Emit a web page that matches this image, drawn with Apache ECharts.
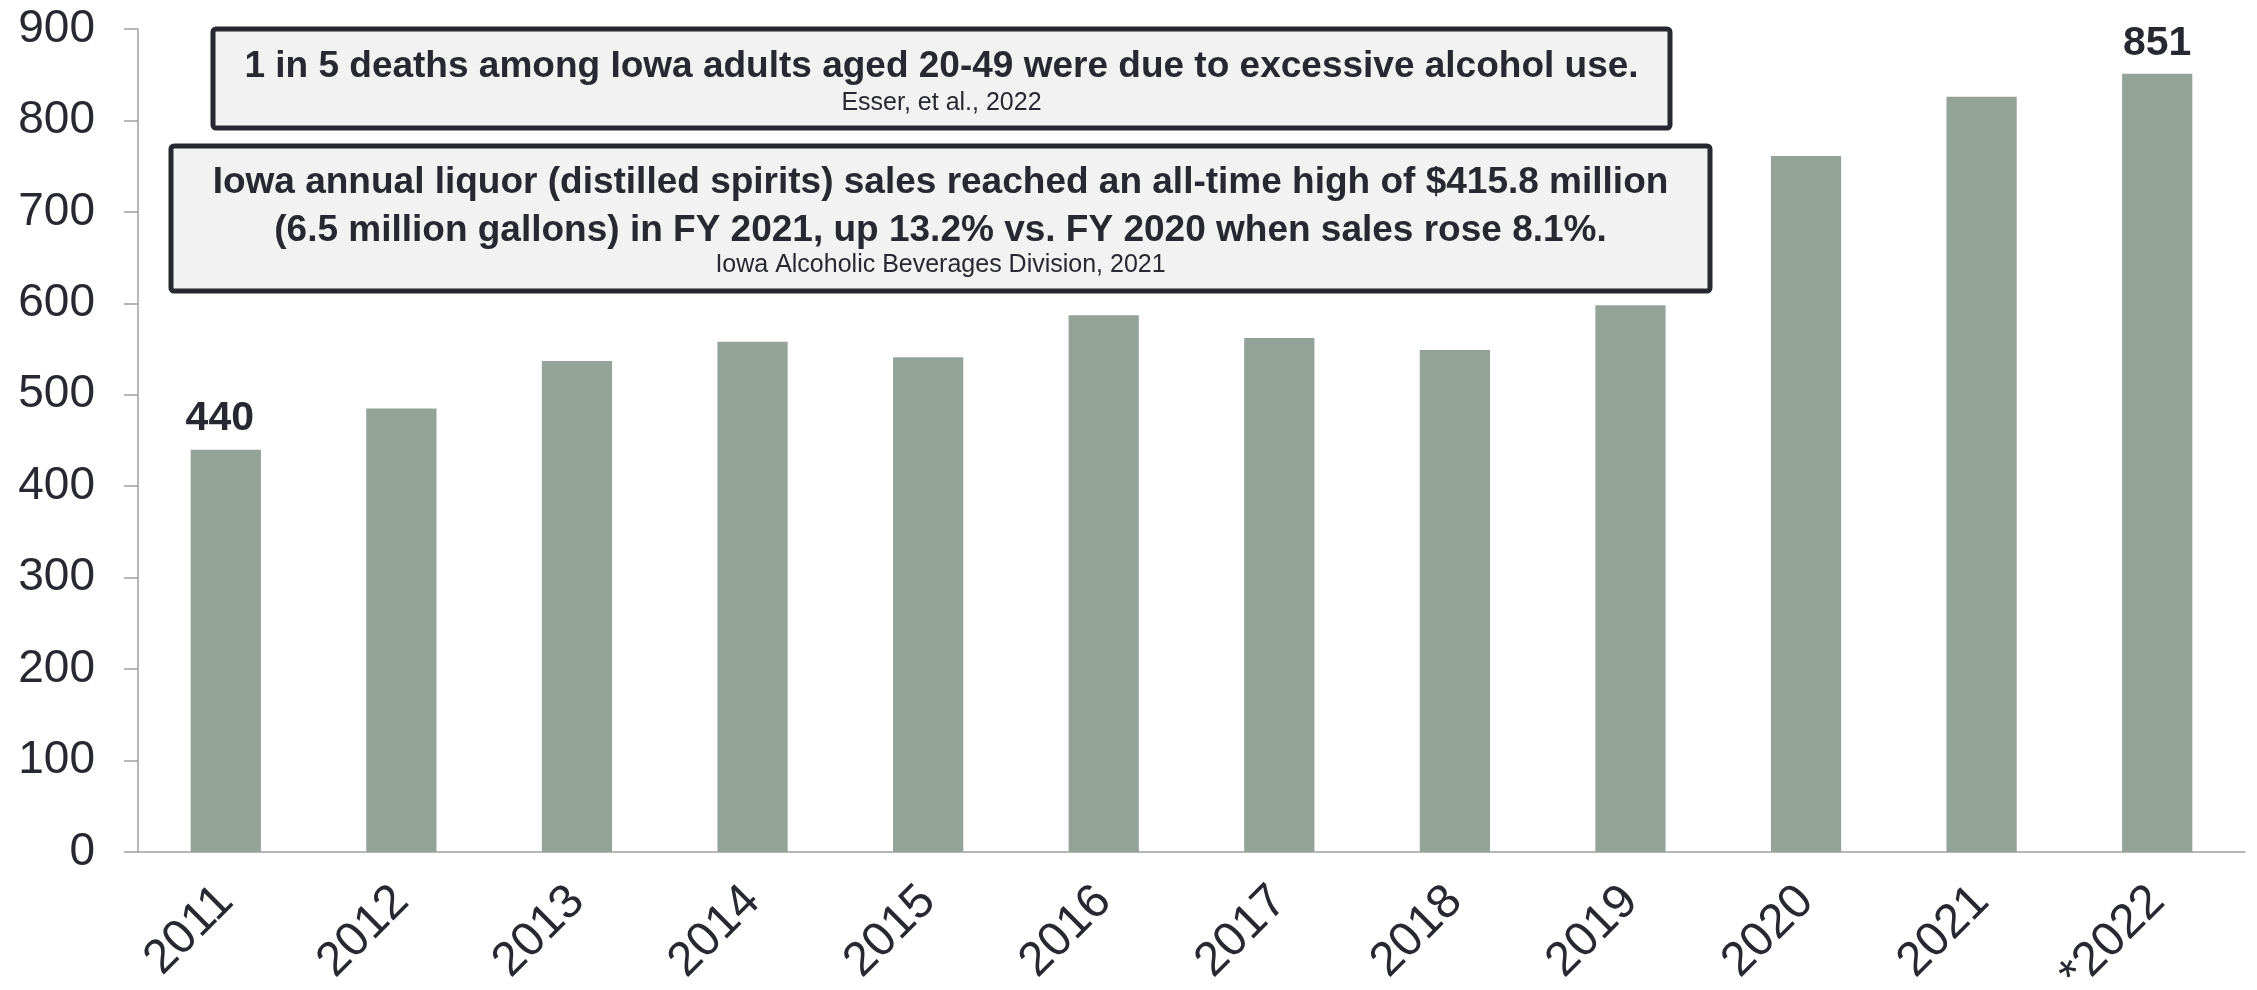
<!DOCTYPE html>
<html>
<head>
<meta charset="utf-8">
<script src="https://cdn.jsdelivr.net/npm/echarts@6/dist/echarts.min.js"></script>
<style>
  html, body { margin: 0; padding: 0; background: #fff; }
  #chart { width: 2257px; height: 990px; }
</style>
</head>
<body>
<div id="chart"></div>
<script>
var years = ["2011", "2012", "2013", "2014", "2015", "2016", "2017", "2018", "2019", "2020", "2021", "*2022"];
var deaths = [440, 485, 537, 558, 541, 587, 562, 549, 598, 761, 826, 851];
var labelled = [0, 11];
var yTicks = { min: 0, max: 900, step: 100 };

var note1 = "1 in 5 deaths among Iowa adults aged 20-49 were due to excessive alcohol use.";
var source1 = "Esser, et al., 2022";
var note2a = "Iowa annual liquor (distilled spirits) sales reached an all-time high of $415.8 million";
var note2b = "(6.5 million gallons) in FY 2021, up 13.2% vs. FY 2020 when sales rose 8.1%.";
var source2 = "Iowa Alcoholic Beverages Division, 2021";

var font = "'Liberation Sans', Arial, sans-serif";
var ink = "#282832";
var barColor = "#93a398";
var axisColor = "#a0a0a0";

var barData = deaths.map(function (v, i) {
  if (labelled.indexOf(i) >= 0) {
    // first label sits a touch left of its bar in the original
    return { value: v, label: { show: true, offset: [i === 0 ? -6 : 0, 0] } };
  }
  return v;
});

function noteBox(x, y, w, h, lines) {
  var children = [
    {
      type: "rect",
      shape: { x: 0, y: 0, width: w, height: h, r: 3 },
      style: { fill: "#f2f2f2", stroke: ink, lineWidth: 5 }
    }
  ];
  lines.forEach(function (l) {
    children.push({
      type: "text",
      x: w / 2,
      y: l.y,
      style: {
        text: l.text,
        fill: ink,
        font: (l.bold ? "bold " : "") + l.size + "px " + font,
        textAlign: "center",
        textVerticalAlign: "middle"
      }
    });
  });
  return { type: "group", x: x, y: y, children: children, z: 100 };
}

var chart = echarts.init(document.getElementById("chart"));
var option = {
  animation: false,
  textStyle: { fontFamily: font },
  grid: {
    left: 138,
    right: 12,
    top: 29,
    bottom: 138,
    outerBoundsMode: "none"
  },
  xAxis: {
    type: "category",
    data: years,
    axisLine: { lineStyle: { color: axisColor, width: 1.5 } },
    axisTick: { length: 14, lineStyle: { color: axisColor, width: 1.5 } },
    axisLabel: {
      interval: 0,
      rotate: 45,
      margin: 42,
      fontSize: 48,
      color: ink,
      fontFamily: font
    }
  },
  yAxis: {
    type: "value",
    min: yTicks.min,
    max: yTicks.max,
    interval: yTicks.step,
    splitLine: { show: false },
    axisLine: { show: true, lineStyle: { color: axisColor, width: 1.5 } },
    axisTick: { show: true, length: 14, lineStyle: { color: axisColor, width: 1.5 } },
    axisLabel: {
      margin: 43,
      fontSize: 46,
      color: ink,
      fontFamily: font
    }
  },
  series: [
    {
      type: "bar",
      data: barData,
      barWidth: "40%",
      itemStyle: { color: barColor },
      label: {
        show: false,
        position: "top",
        distance: 10,
        fontSize: 41,
        fontWeight: "bold",
        color: ink,
        fontFamily: font
      }
    }
  ],
  graphic: [
    noteBox(213, 29, 1457, 99, [
      { text: note1, y: 38, size: 37, bold: true },
      { text: source1, y: 74, size: 25 }
    ]),
    noteBox(171, 146, 1539, 145, [
      { text: note2a, y: 37, size: 37, bold: true },
      { text: note2b, y: 85, size: 37, bold: true },
      { text: source2, y: 119, size: 25 }
    ])
  ]
};
chart.setOption(option);
</script>
</body>
</html>
